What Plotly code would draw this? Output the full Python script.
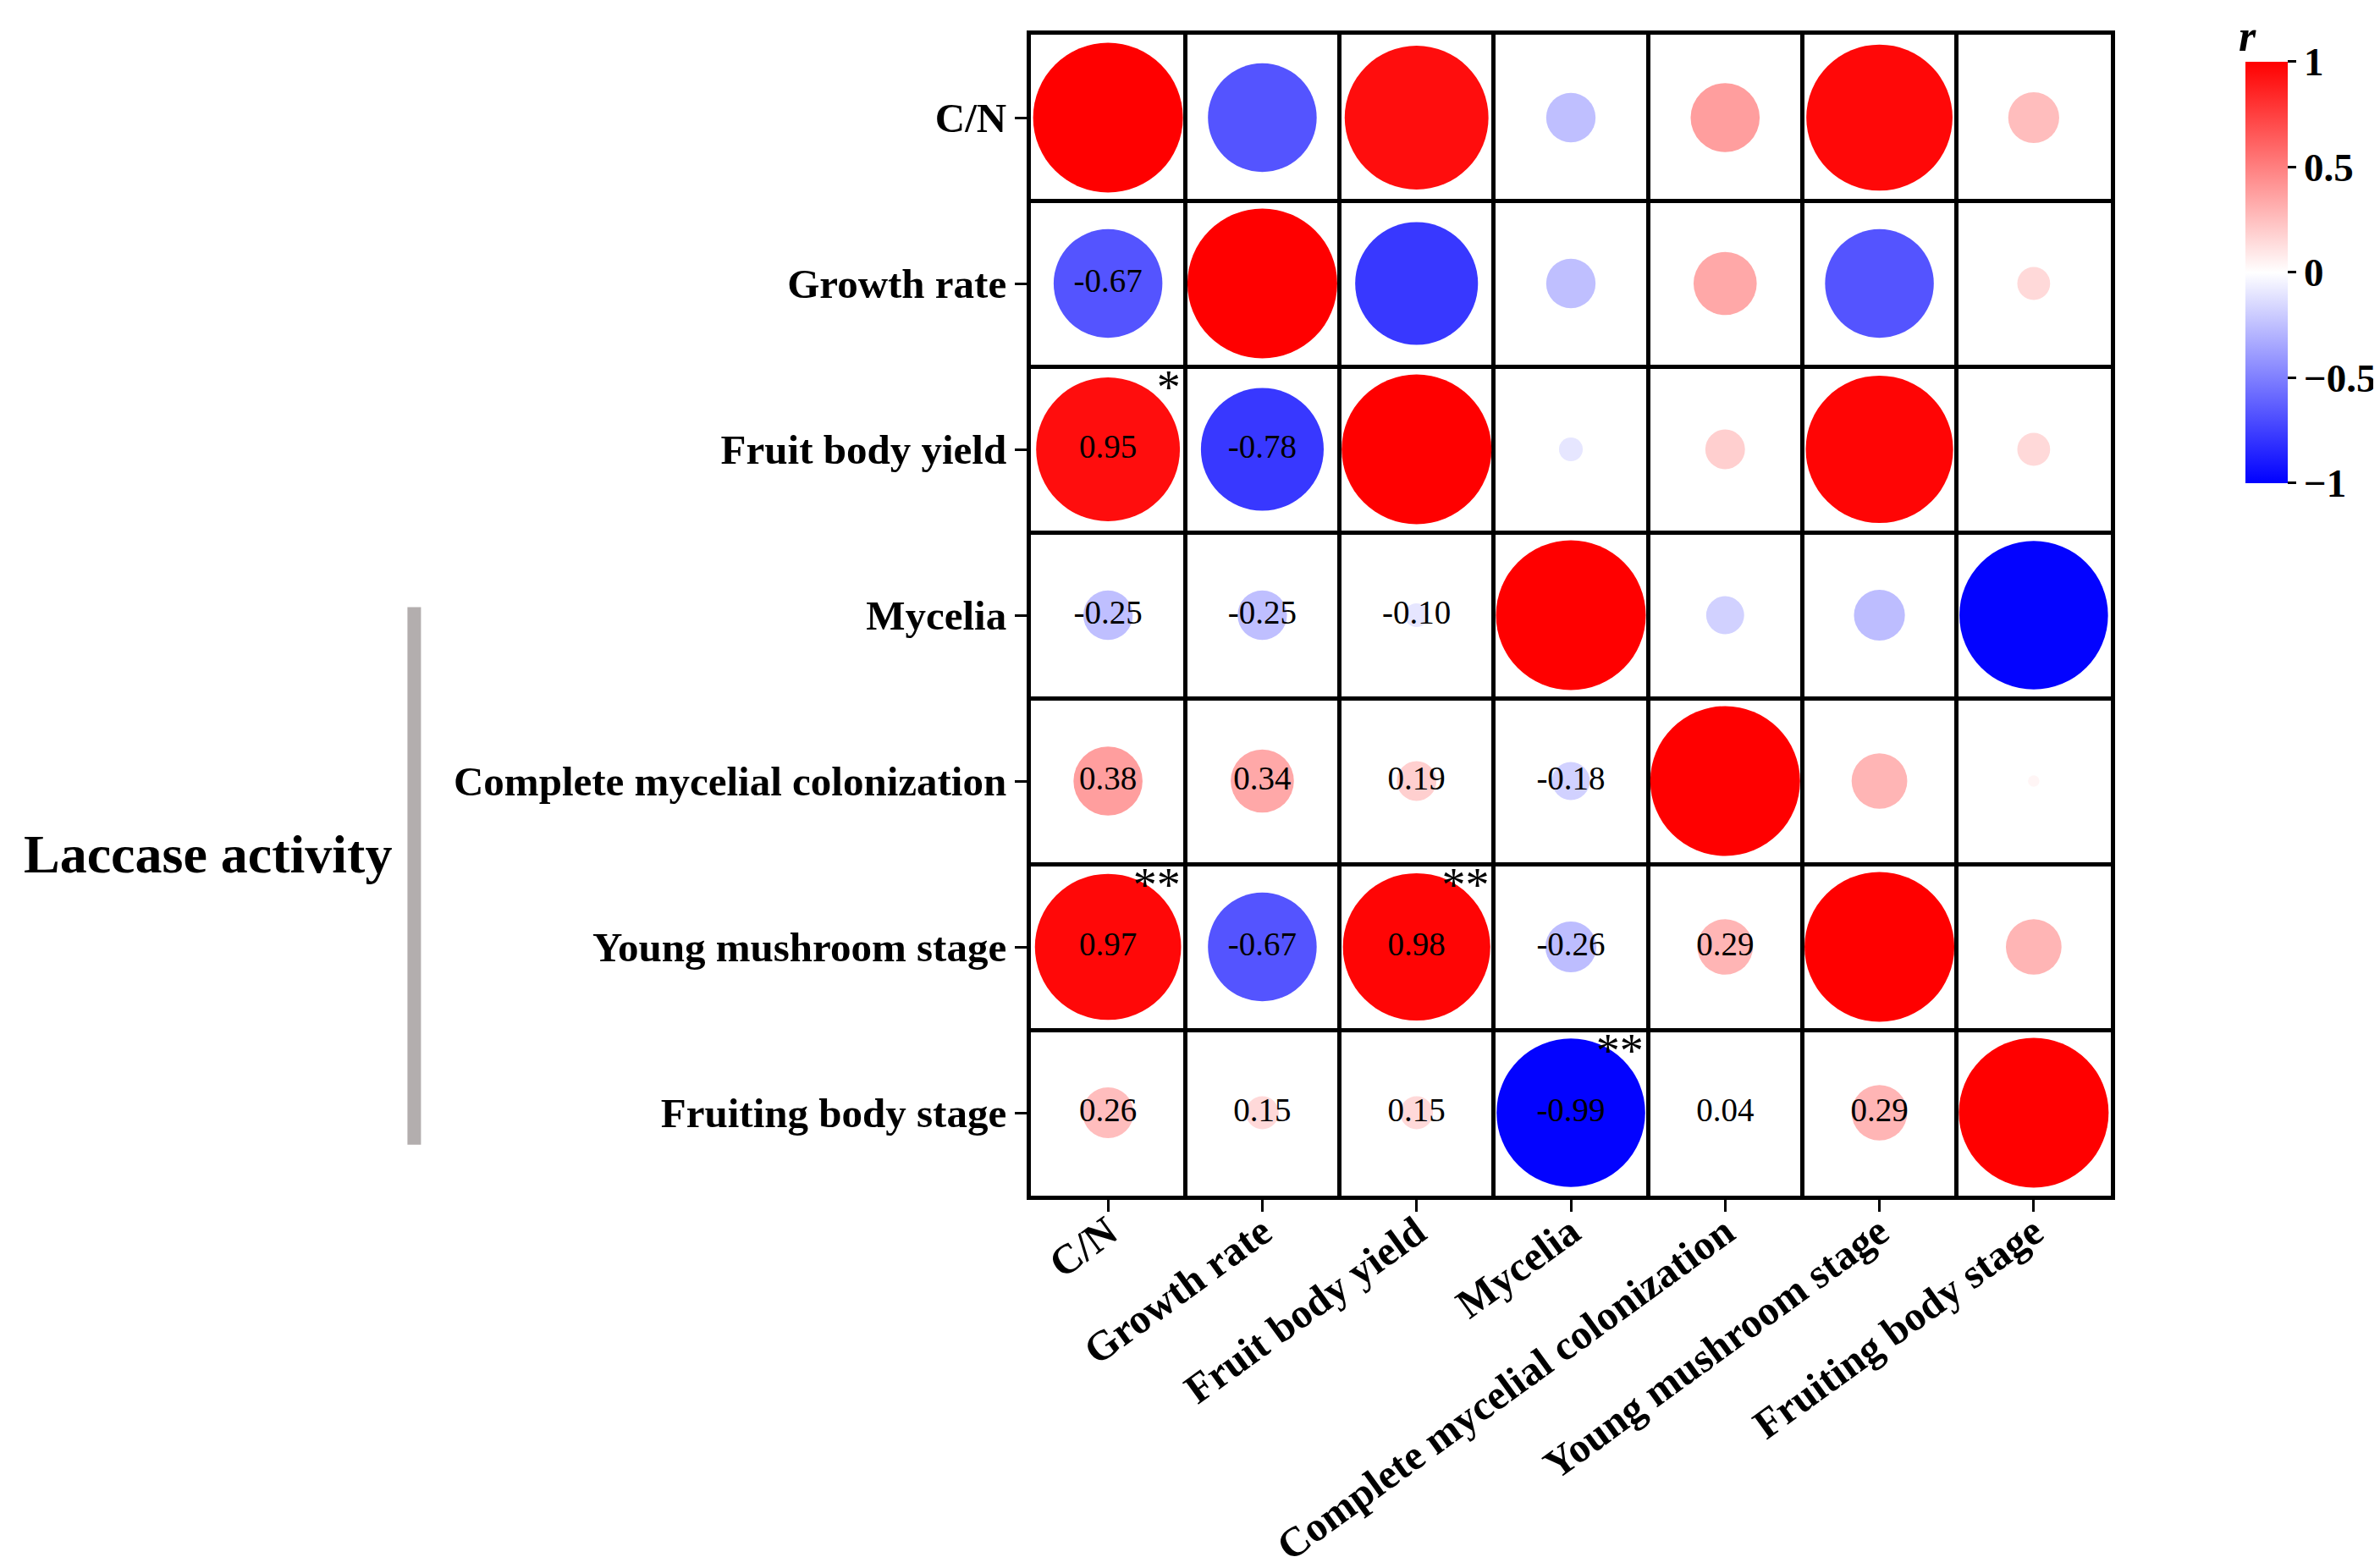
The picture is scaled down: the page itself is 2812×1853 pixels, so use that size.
import numpy as np
import plotly.graph_objects as go

# ---------------- data ----------------
variables = ["C/N", "Growth rate", "Fruit body yield", "Mycelia",
             "Complete mycelial colonization", "Young mushroom stage",
             "Fruiting body stage"]

# lower triangle correlation values (row i, columns 0..i-1)
lower_r = [
    [],
    [-0.67],
    [0.95, -0.78],
    [-0.25, -0.25, -0.10],
    [0.38, 0.34, 0.19, -0.18],
    [0.97, -0.67, 0.98, -0.26, 0.29],
    [0.26, 0.15, 0.15, -0.99, 0.04, 0.29],
]

# significance marks: (row, col) -> stars
significance = {(2, 0): "*", (5, 0): "**", (5, 2): "**", (6, 3): "**"}

colorbar_ticks = [-1, -0.5, 0, 0.5, 1]
colorbar_ticktext = ["\u22121", "\u22120.5", "0", "0.5", "1"]

# ---------------- build full symmetric matrix ----------------
n = len(variables)
R = np.eye(n)
for i, row in enumerate(lower_r):
    for j, v in enumerate(row):
        R[i, j] = v
        R[j, i] = v

xs, ys, rs = [], [], []
for i in range(n):
    for j in range(n):
        xs.append(j)
        ys.append(i)
        rs.append(R[i, j])
rs = np.array(rs)
MAXD = 177
sizes = MAXD * np.abs(rs) ** 0.8

FONT = "Liberation Serif"

fig = go.Figure()

fig.add_trace(go.Scatter(
    x=xs, y=ys, mode="markers",
    marker=dict(
        size=sizes, sizemode="diameter", color=rs,
        cmin=-1, cmax=1,
        colorscale=[[0, "rgb(0,0,255)"], [0.5, "rgb(255,255,255)"], [1, "rgb(255,0,0)"]],
        line=dict(width=0), opacity=1,
        colorbar=dict(
            x=1.117, xanchor="left", y=0.7955, yanchor="middle",
            thickness=50, thicknessmode="pixels",
            len=498, lenmode="pixels", ypad=0,
            outlinewidth=0,
            tickmode="array", tickvals=colorbar_ticks, ticktext=colorbar_ticktext,
            ticks="outside", ticklen=10, tickwidth=3, tickcolor="black",
            tickfont=dict(family=FONT, size=47, color="black", weight="bold"),
        ),
    ),
    hoverinfo="skip", showlegend=False,
))

# value labels in the lower triangle
tx, ty, tt = [], [], []
for i, row in enumerate(lower_r):
    for j, v in enumerate(row):
        tx.append(j)
        ty.append(i)
        tt.append(f"{v:.2f}")
fig.add_trace(go.Scatter(
    x=tx, y=ty, text=tt, mode="text", textposition="middle center",
    textfont=dict(family=FONT, size=39, color="black"),
    hoverinfo="skip", showlegend=False,
))

# significance stars at upper right of cells
sx, sy, st = [], [], []
for (i, j), s in significance.items():
    sx.append(j + 0.47)
    sy.append(i - 0.49)
    st.append(s)
fig.add_trace(go.Scatter(
    x=sx, y=sy, text=st, mode="text", textposition="bottom left",
    textfont=dict(family=FONT, size=56, color="black"),
    hoverinfo="skip", showlegend=False,
))

bounds = [k - 0.5 for k in range(n + 1)]
axis_common = dict(
    tickmode="array", tickvals=list(range(n)), ticktext=variables,
    showgrid=False, zeroline=False, automargin=False,
    showline=True, mirror=True, linecolor="black", linewidth=5,
    ticks="outside", ticklen=14, tickwidth=3, tickcolor="black",
    tickfont=dict(family=FONT, size=49, color="black", weight="bold"),
    minor=dict(tickmode="array", tickvals=bounds, showgrid=True,
               gridcolor="black", gridwidth=5, ticks=""),
)

fig.update_layout(
    width=2812, height=1853, autosize=False,
    margin=dict(l=1210, r=326, t=33, b=448, autoexpand=False),
    paper_bgcolor="white", plot_bgcolor="white",
    xaxis=dict(range=[-0.5, n - 0.5], tickangle=-36, ticklabelstandoff=-24,
               **axis_common),
    yaxis=dict(range=[n - 0.5, -0.5], **axis_common),
    annotations=[
        dict(
            text="<b>Laccase activity</b>", xref="paper", yref="paper",
            x=-0.762, y=0.294, xanchor="center", yanchor="middle", showarrow=False,
            font=dict(family=FONT, size=64, color="black"),
        ),
        dict(
            text="<b><i>r</i></b>", xref="paper", yref="paper",
            x=1.117, y=1.0215, xanchor="left", yanchor="top", showarrow=False,
            font=dict(family=FONT, size=52, color="black"),
        ),
    ],
    shapes=[dict(
        type="line", xref="paper", yref="paper",
        x0=-0.571, x1=-0.571, y0=0.044, y1=0.507,
        line=dict(color="#B3AEAE", width=16),
    )],
)

fig.write_html("out.html")
